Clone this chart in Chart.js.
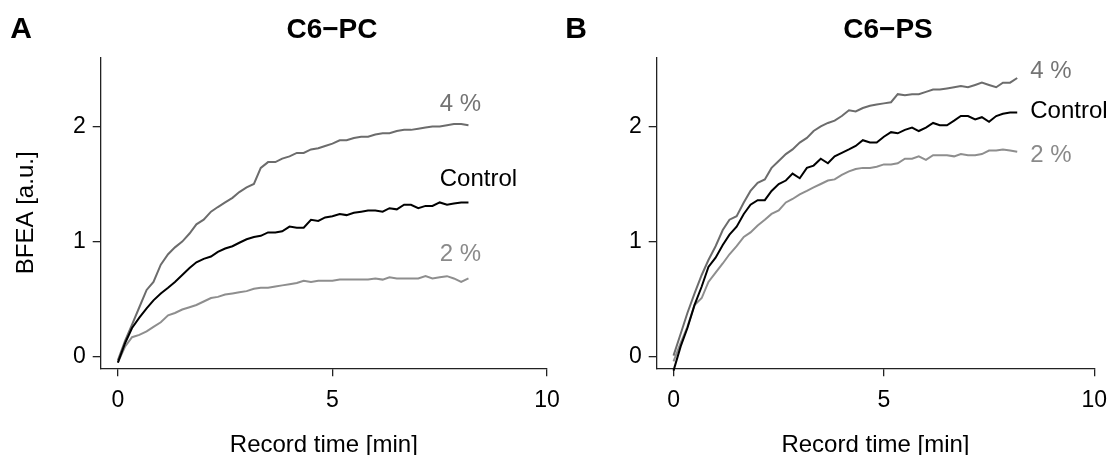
<!DOCTYPE html>
<html>
<head>
<meta charset="utf-8">
<script src="https://cdn.jsdelivr.net/npm/chart.js@4.4.1/dist/chart.umd.min.js"></script>
<style>
    body { margin: 0; background: #fff; font-family: "Liberation Sans", Arial, sans-serif; }
    #wrap { position: relative; width: 1118px; height: 455px; overflow: hidden; }
    .panel { position: absolute; top: 0; height: 455px; }
    .txt { position: absolute; line-height: 1; transform: translate(-50%, -50%); white-space: nowrap; color: #000; font-weight: bold; }
</style>
</head>
<body>
<div id="wrap">
    <div class="panel" style="left:0;width:580px;"><canvas id="chartPC"></canvas></div>
    <div class="panel" style="left:556px;width:562px;"><canvas id="chartPS"></canvas></div>
    <div class="txt" style="left:21px;top:28px;font-size:30px;">A</div>
    <div class="txt" style="left:332px;top:29px;font-size:28px;">C6−PC</div>
    <div class="txt" style="left:576px;top:28px;font-size:30px;">B</div>
    <div class="txt" style="left:888px;top:29px;font-size:28px;">C6−PS</div>
</div>
<script>
// record time [min], one sample every 10 s
const recordTime = [0, 0.17, 0.33, 0.5, 0.67, 0.83, 1, 1.17, 1.33, 1.5, 1.67, 1.83,
    2, 2.17, 2.33, 2.5, 2.67, 2.83, 3, 3.17, 3.33, 3.5, 3.67, 3.83,
    4, 4.17, 4.33, 4.5, 4.67, 4.83, 5, 5.17, 5.33, 5.5, 5.67, 5.83,
    6, 6.17, 6.33, 6.5, 6.67, 6.83, 7, 7.17, 7.33, 7.5, 7.67, 7.83, 8, 8.17];

const seriesNames = ['Control', '4 %', '2 %'];

// C6-PC
const pcControl = [-0.05, 0.12, 0.25, 0.34, 0.42, 0.49, 0.55, 0.60, 0.65, 0.71, 0.77, 0.82,
    0.85, 0.87, 0.91, 0.94, 0.96, 0.99, 1.02, 1.04, 1.05, 1.08, 1.08, 1.09,
    1.13, 1.12, 1.12, 1.19, 1.18, 1.21, 1.22, 1.24, 1.23, 1.25, 1.26, 1.27,
    1.27, 1.26, 1.29, 1.28, 1.32, 1.32, 1.29, 1.31, 1.31, 1.34, 1.32, 1.33, 1.34, 1.34];
const pc4 = [-0.03, 0.14, 0.28, 0.43, 0.58, 0.65, 0.80, 0.89, 0.95, 1.00, 1.07, 1.15,
    1.19, 1.26, 1.30, 1.34, 1.38, 1.43, 1.47, 1.50, 1.64, 1.69, 1.69, 1.72,
    1.74, 1.77, 1.77, 1.80, 1.81, 1.83, 1.85, 1.88, 1.88, 1.90, 1.91, 1.91,
    1.93, 1.94, 1.94, 1.96, 1.97, 1.97, 1.98, 1.99, 2.00, 2.00, 2.01, 2.02, 2.02, 2.01];
const pc2 = [-0.05, 0.09, 0.17, 0.19, 0.22, 0.26, 0.30, 0.36, 0.38, 0.41, 0.43, 0.45,
    0.48, 0.51, 0.52, 0.54, 0.55, 0.56, 0.57, 0.59, 0.60, 0.60, 0.61, 0.62,
    0.63, 0.64, 0.66, 0.65, 0.66, 0.66, 0.66, 0.67, 0.67, 0.67, 0.67, 0.67,
    0.68, 0.67, 0.69, 0.68, 0.68, 0.68, 0.68, 0.70, 0.68, 0.69, 0.70, 0.68, 0.65, 0.68];

// C6-PS
const psControl = [-0.12, 0.09, 0.25, 0.45, 0.61, 0.78, 0.86, 0.97, 1.06, 1.13, 1.24, 1.32,
    1.36, 1.36, 1.44, 1.50, 1.53, 1.59, 1.55, 1.64, 1.66, 1.72, 1.68, 1.74,
    1.77, 1.80, 1.83, 1.88, 1.86, 1.86, 1.91, 1.95, 1.94, 1.97, 1.99, 1.96,
    1.99, 2.03, 2.01, 2.01, 2.05, 2.09, 2.09, 2.06, 2.08, 2.04, 2.09, 2.11, 2.12, 2.12];
const ps4 = [0.01, 0.20, 0.38, 0.55, 0.71, 0.84, 0.96, 1.10, 1.19, 1.22, 1.34, 1.44,
    1.51, 1.54, 1.64, 1.70, 1.76, 1.80, 1.86, 1.90, 1.96, 2.00, 2.03, 2.05,
    2.09, 2.14, 2.13, 2.16, 2.18, 2.19, 2.20, 2.21, 2.28, 2.27, 2.28, 2.28,
    2.30, 2.32, 2.32, 2.33, 2.34, 2.35, 2.34, 2.36, 2.38, 2.36, 2.34, 2.38, 2.38, 2.42];
const ps2 = [-0.04, 0.12, 0.26, 0.45, 0.51, 0.65, 0.73, 0.81, 0.89, 0.96, 1.04, 1.08,
    1.14, 1.19, 1.24, 1.27, 1.34, 1.37, 1.41, 1.44, 1.47, 1.50, 1.53, 1.54,
    1.58, 1.61, 1.63, 1.64, 1.64, 1.65, 1.67, 1.67, 1.68, 1.72, 1.72, 1.74,
    1.71, 1.75, 1.75, 1.75, 1.74, 1.76, 1.75, 1.75, 1.76, 1.79, 1.79, 1.80, 1.79, 1.78];

const xTickValues = [0, 5, 10];
const yTickValues = [0, 1, 2];

const lineColors = ['#000000', '#6c6c6c', '#8e8e8e'];
const textColors = ['#000000', '#747474', '#8a8a8a'];
const FONT = '"Liberation Sans", Arial, sans-serif';

// writes the series name next to the end of each curve
const endLabels = {
    id: 'endLabels',
    afterDatasetsDraw(chart, args, opts) {
        const ctx = chart.ctx;
        const xs = chart.scales.x, ys = chart.scales.y;
        ctx.save();
        ctx.font = '24px ' + FONT;
        ctx.textAlign = 'left';
        ctx.textBaseline = 'middle';
        opts.items.forEach(function (it, i) {
            ctx.fillStyle = textColors[i];
            ctx.fillText(seriesNames[i], xs.getPixelForValue(opts.x), ys.getPixelForValue(it));
        });
        ctx.restore();
    }
};

function makeChart(id, values, labelX, labelY, rightPad, yTitle) {
    const el = document.getElementById(id);
    return new Chart(el.getContext('2d'), {
        type: 'line',
        data: {
            datasets: values.map(function (v, i) {
                return {
                    label: seriesNames[i],
                    data: recordTime.map((t, k) => ({ x: t, y: v[k] })),
                    borderColor: lineColors[i],
                    borderWidth: 2,
                    pointRadius: 0,
                    tension: 0,
                    clip: false
                };
            })
        },
        options: {
            responsive: true,
            maintainAspectRatio: false,
            animation: false,
            layout: { padding: { left: 0, top: 57.3, right: rightPad, bottom: 0 } },
            plugins: {
                legend: { display: false },
                tooltip: { enabled: false },
                endLabels: { x: labelX, items: labelY }
            },
            scales: {
                x: {
                    type: 'linear',
                    min: -0.4,
                    max: 10,
                    afterFit: function (s) { s.height = 86.7; },
                    afterBuildTicks: function (s) { s.ticks = xTickValues.map(v => ({ value: v })); },
                    grid: { drawOnChartArea: false, drawTicks: true, tickLength: 8, color: '#222', lineWidth: 1.3 },
                    border: { display: true, color: '#222', width: 1.3 },
                    ticks: { color: '#000', padding: 11, font: { family: FONT, size: 23 }, maxRotation: 0 },
                    title: { display: true, text: 'Record time [min]', color: '#000', font: { family: FONT, size: 24 }, padding: { top: 0, bottom: -5 } }
                },
                y: {
                    min: -0.1,
                    max: 2.6,
                    afterFit: function (s) { s.width = 100.7; },
                    afterBuildTicks: function (s) { s.ticks = yTickValues.map(v => ({ value: v })); },
                    grid: { drawOnChartArea: false, drawTicks: true, tickLength: 8, color: '#222', lineWidth: 1.3 },
                    border: { display: true, color: '#222', width: 1.3 },
                    ticks: { color: '#000', padding: 7, font: { family: FONT, size: 23 } },
                    title: { display: yTitle, text: 'BFEA [a.u.]', color: '#000', font: { family: FONT, size: 24 }, padding: { top: 12, bottom: 0 } }
                }
            }
        },
        plugins: [endLabels]
    });
}

makeChart('chartPC', [pcControl, pc4, pc2], 7.5, [1.54, 2.19, 0.89], 33, true);
makeChart('chartPS', [psControl, ps4, ps2], 8.48, [2.13, 2.48, 1.75], 15, false);
</script>
</body>
</html>
